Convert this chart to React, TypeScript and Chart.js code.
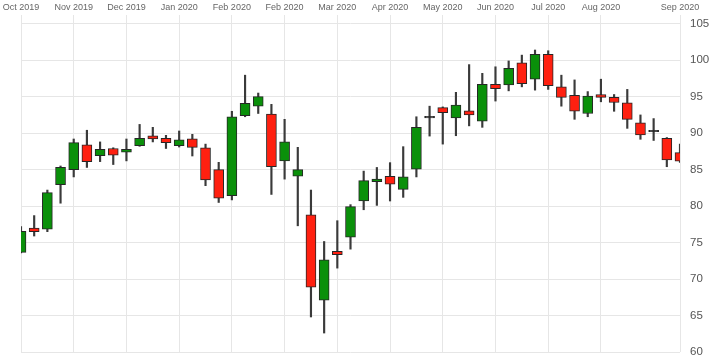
import React, { useEffect, useRef } from 'react';
import { Chart, registerables } from 'chart.js';

Chart.register(...registerables);

// week index of each weekly candle (Oct 2019 .. Sep 2020)
const weeks = [0, 1, 2, 3, 4, 5, 6, 7, 8, 9, 10, 11, 12, 13, 14, 15, 16, 17, 18, 19, 20, 21, 22, 23, 24, 25, 26, 27, 28, 29, 30, 31, 32, 33, 34, 35, 36, 37, 38, 39, 40, 41, 42, 43, 44, 45, 46, 47, 48, 49, 50];

const opens = [73.65, 77.0, 76.85, 82.95, 85.0, 88.4, 86.9, 87.9, 87.4, 88.3, 89.65, 89.3, 88.3, 89.24, 88.0, 85.0, 81.44, 92.4, 93.7, 92.6, 86.2, 84.1, 78.8, 67.1, 73.8, 75.75, 80.7, 83.35, 84.1, 82.3, 85.05, 92.1, 93.5, 92.1, 93.07, 91.66, 96.7, 96.6, 99.64, 97.4, 100.8, 96.35, 95.2, 92.7, 95.3, 94.9, 94.17, 91.43, 90.2, 89.3, 87.33];
const highs = [77.2, 78.7, 82.2, 85.5, 89.2, 90.4, 88.8, 88.0, 89.2, 91.2, 90.8, 89.7, 90.3, 89.84, 88.5, 86.0, 93.0, 97.95, 95.5, 93.95, 91.9, 88.06, 82.2, 75.15, 78.0, 80.2, 84.8, 85.3, 85.96, 88.15, 92.25, 93.7, 93.6, 95.6, 99.4, 98.2, 99.1, 99.9, 100.7, 101.4, 101.3, 97.95, 97.3, 95.7, 97.4, 95.3, 96.0, 92.5, 92.0, 89.4, 88.5];
const lows = [73.6, 75.9, 76.5, 80.4, 84.0, 85.3, 86.1, 85.7, 86.2, 88.2, 88.8, 87.9, 88.1, 86.87, 82.8, 80.5, 80.85, 92.25, 92.7, 81.6, 83.7, 77.3, 64.8, 62.6, 71.5, 74.1, 79.5, 80.1, 80.7, 81.2, 84.0, 89.6, 88.5, 89.65, 91.0, 90.8, 94.4, 95.8, 96.35, 95.9, 96.0, 93.7, 91.9, 92.25, 94.3, 93.0, 90.66, 89.16, 89.0, 85.4, 86.0];
const closes = [76.55, 76.5, 81.85, 85.33, 88.7, 86.1, 87.8, 87.0, 87.8, 89.3, 89.2, 88.7, 89.1, 88.06, 83.6, 81.1, 92.25, 94.1, 95.0, 85.4, 88.8, 85.0, 68.9, 72.65, 73.33, 79.94, 83.5, 83.7, 83.0, 84.0, 90.8, 92.1, 92.8, 93.85, 92.5, 96.7, 96.1, 98.9, 96.8, 100.8, 96.5, 94.9, 93.0, 95.1, 94.9, 94.2, 91.9, 89.75, 90.2, 86.33, 86.15];

const tickWeeks = [0, 4, 8, 12, 16, 20, 24, 28, 32, 36, 40, 44, 50];
const tickLabels = ['Oct 2019', 'Nov 2019', 'Dec 2019', 'Jan 2020', 'Feb 2020', 'Feb 2020', 'Mar 2020', 'Apr 2020', 'May 2020', 'Jun 2020', 'Jul 2020', 'Aug 2020', 'Sep 2020'];
const priceTicks = [60, 65, 70, 75, 80, 85, 90, 95, 100, 105];

const GREEN = '#0a900a';
const RED = '#ff2010';
const FONT = '"Liberation Sans", Arial, sans-serif';

export default function App() {
  const ref = useRef<HTMLCanvasElement>(null);
  useEffect(() => {
    const canvas = ref.current;
    if (!canvas) return;
    const bodies = weeks.map((w, i) => ({ x: w, y: [opens[i], closes[i]] }));
    const wicks = weeks.map((w, i) => ({ x: w, y: [lows[i], highs[i]] }));
    const colors = weeks.map((_, i) =>
      closes[i] > opens[i] ? GREEN : closes[i] < opens[i] ? RED : '#222'
    );
    const chart = new Chart(canvas, {
      type: 'bar',
      data: {
        datasets: [
          {
            data: bodies as any,
            backgroundColor: colors,
            borderColor: '#262626',
            borderWidth: 1,
            borderSkipped: false,
            barThickness: 10,
            minBarLength: 1.5,
            grouped: false,
            order: 0,
            clip: 0,
          } as any,
          {
            data: wicks as any,
            backgroundColor: '#3a3a3a',
            borderWidth: 0,
            barThickness: 1.5,
            grouped: false,
            order: 1,
            clip: 0,
          } as any,
        ],
      },
      options: {
        animation: false,
        responsive: true,
        maintainAspectRatio: false,
        layout: { padding: { left: 21, right: 0, top: 0, bottom: 6 } },
        plugins: { legend: { display: false }, tooltip: { enabled: false } },
        scales: {
          x: {
            type: 'linear',
            position: 'top',
            min: 0,
            max: 50,
            offset: false,
            grid: { color: '#e6e6e6', drawTicks: false, offset: false },
            border: { display: false },
            afterBuildTicks: (s: any) => {
              s.ticks = tickWeeks.map((v) => ({ value: v }));
            },
            afterFit: (s: any) => {
              s.height = 15;
              s.paddingLeft = 0;
              s.paddingRight = 0;
            },
            ticks: {
              autoSkip: false,
              maxRotation: 0,
              padding: 2,
              color: '#666',
              font: { size: 9, family: FONT },
              callback: (v: any) => {
                const k = tickWeeks.indexOf(Number(v));
                return k >= 0 ? tickLabels[k] : '';
              },
            },
          },
          y: {
            type: 'linear',
            position: 'right',
            min: 60,
            max: 106.2,
            beginAtZero: false,
            grid: { color: '#e6e6e6', drawTicks: false },
            border: { display: false },
            afterBuildTicks: (s: any) => {
              s.ticks = priceTicks.map((v) => ({ value: v }));
            },
            afterFit: (s: any) => {
              s.width = 36;
              s.paddingTop = 0;
              s.paddingBottom = 0;
            },
            ticks: {
              padding: 10,
              color: '#555',
              font: { size: 11.5, family: FONT },
              callback: (v: any) => String(v),
            },
          },
        },
      } as any,
    });
    return () => chart.destroy();
  }, []);
  return (
    <div style={{ position: 'absolute', left: 0, top: 0, width: 716, height: 358 }}>
      <canvas ref={ref} />
    </div>
  );
}
